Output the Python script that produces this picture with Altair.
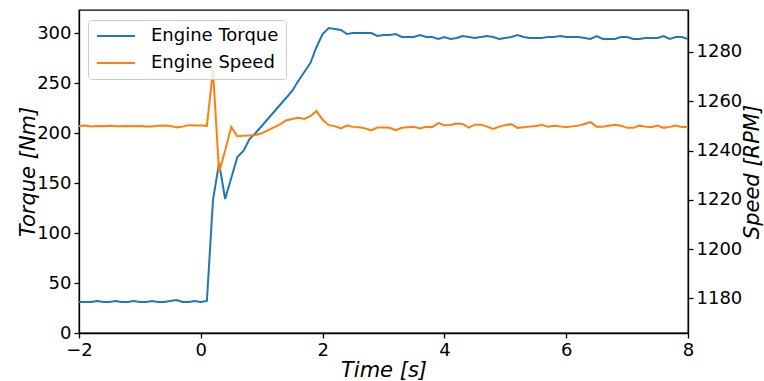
import altair as alt
import pandas as pd

# Time axis [s]
time = [round(-2.0 + 0.1 * i, 1) for i in range(101)]

# Engine torque [Nm]
torque = [
    31, 31, 31, 32, 31, 31, 32, 31, 31, 32,
    31, 31, 32, 31, 31, 32, 33, 31, 31, 32,
    31, 32, 133, 170, 134, 155, 176, 182, 194, 200,
    207, 214, 221, 228, 235, 242, 252, 261, 270, 286,
    299, 305, 304, 303, 299, 300, 300, 300, 300, 297,
    298, 298, 299, 296, 296, 296, 298, 296, 296, 294,
    296, 294, 295, 297, 296, 295, 296, 297, 296, 294,
    295, 296, 298, 296, 295, 295, 295, 296, 296, 297,
    296, 296, 296, 295, 294, 297, 294, 294, 294, 296,
    296, 294, 294, 295, 295, 295, 297, 294, 296, 296,
    294,
]

# Engine speed [RPM]
speed = [
    1250.0, 1250.2, 1249.8, 1250.0, 1249.9, 1250.1, 1249.9, 1249.9, 1250.0, 1249.9,
    1250.0, 1249.8, 1249.8, 1250.1, 1250.2, 1250.0, 1249.4, 1249.7, 1250.3, 1250.2,
    1250.2, 1250.0, 1272.6, 1231.3, 1240.0, 1249.6, 1245.8, 1246.0, 1246.1, 1246.3,
    1247.0, 1248.2, 1249.4, 1250.6, 1252.2, 1252.8, 1253.3, 1252.8, 1253.9, 1256.0,
    1252.5, 1250.3, 1249.9, 1249.0, 1250.1, 1249.6, 1249.4, 1249.0, 1248.2, 1249.3,
    1249.3, 1249.2, 1248.3, 1249.2, 1249.4, 1249.6, 1249.0, 1249.6, 1249.5, 1251.1,
    1250.3, 1250.4, 1251.0, 1250.8, 1249.3, 1250.5, 1250.5, 1249.7, 1248.8, 1249.7,
    1250.3, 1250.7, 1249.2, 1249.4, 1249.7, 1250.0, 1250.4, 1249.7, 1250.1, 1249.8,
    1249.5, 1249.8, 1250.1, 1250.8, 1251.5, 1249.7, 1249.7, 1250.1, 1250.5, 1250.1,
    1249.2, 1249.2, 1250.1, 1249.7, 1249.5, 1250.1, 1249.2, 1249.6, 1250.1, 1249.5,
    1249.5,
]

series_names = ["Engine Torque", "Engine Speed"]
series_colors = ["#1f77b4", "#ff7f0e"]
x_ticks = [-2, 0, 2, 4, 6, 8]
torque_ticks = [0, 50, 100, 150, 200, 250, 300]
speed_ticks = [1180, 1200, 1220, 1240, 1260, 1280]

df = pd.DataFrame({"time": time, "torque": torque, "speed": speed})

FONT = "DejaVu Sans"

axis_common = dict(
    labelFont=FONT, labelFontSize=18, labelColor="black", labelFlush=False,
    titleFont=FONT, titleFontSize=21, titleFontStyle="italic",
    titleFontWeight="normal", titleColor="black",
    domainColor="black", domainWidth=1.3, tickColor="black",
    tickSize=5, tickWidth=1.3, grid=False, labelPadding=3,
)

color_scale = alt.Scale(domain=series_names, range=series_colors)

base = alt.Chart(df).encode(
    x=alt.X(
        "time:Q",
        scale=alt.Scale(domain=[-2, 8], nice=False, zero=False),
        axis=alt.Axis(values=x_ticks, title="Time [s]", titlePadding=0, **axis_common),
    )
)

torque_line = base.transform_calculate(series="'Engine Torque'").mark_line(
    strokeWidth=2, clip=True
).encode(
    y=alt.Y(
        "torque:Q",
        scale=alt.Scale(domain=[0, 323], nice=False, zero=False),
        axis=alt.Axis(values=torque_ticks, title="Torque [Nm]", orient="left",
                      titlePadding=-2, **axis_common),
    ),
    color=alt.Color("series:N", scale=color_scale, legend=alt.Legend(title=None)),
)

speed_line = base.transform_calculate(series="'Engine Speed'").mark_line(
    strokeWidth=2, clip=True
).encode(
    y=alt.Y(
        "speed:Q",
        scale=alt.Scale(domain=[1166, 1297], nice=False, zero=False),
        axis=alt.Axis(values=speed_ticks, title="Speed [RPM]", orient="right",
                      format="d", titleAngle=270, titlePadding=21, **axis_common),
    ),
    color=alt.Color("series:N", scale=color_scale, legend=alt.Legend(title=None)),
)

chart = (
    alt.layer(torque_line, speed_line)
    .resolve_scale(y="independent")
    .properties(
        width=609,
        height=323,
        autosize=alt.AutoSizeParams(type="none"),
        padding={"left": 79, "top": 10, "right": 76, "bottom": 48},
        background="white",
    )
    .configure_view(stroke="black", strokeWidth=1.3)
    .configure_legend(
        orient="none", legendX=9, legendY=10,
        symbolType="M-1,0H4.43", symbolStrokeWidth=2, symbolSize=196,
        labelFont=FONT, labelFontSize=18, labelColor="black",
        labelOffset=38, padding=7, rowPadding=9,
        strokeColor="#cccccc", fillColor="rgba(255,255,255,0.8)",
        cornerRadius=3,
    )
)

chart.save("out.html", embed_options={"renderer": "svg", "actions": False})
